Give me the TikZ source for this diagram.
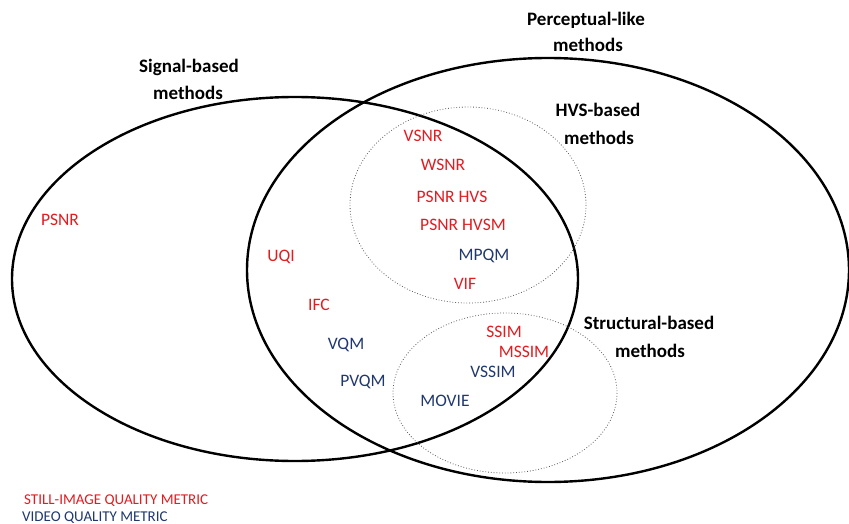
\documentclass[tikz,border=0pt]{standalone}
\usepackage{fontspec}
\setmainfont{Carlito}
\definecolor{mred}{RGB}{226,28,32}
\definecolor{mblue}{RGB}{32,56,110}
\begin{document}
\begin{tikzpicture}[x=1pt,y=-1pt,
  bigset/.style={draw=black,line width=2.4pt},
  subset/.style={draw=black!65,line width=0.8pt,dotted},
  grouplabel/.style={inner sep=0pt,anchor=base,font=\fontsize{19}{22}\selectfont\bfseries},
  stillm/.style={inner sep=0pt,anchor=base,text=mred,font=\fontsize{17.5}{20}\selectfont},
  videom/.style={inner sep=0pt,anchor=base,text=mblue,font=\fontsize{17.5}{20}\selectfont},
  legendtxt/.style={inner sep=0pt,anchor=base west,font=\fontsize{15}{17}\selectfont}]
\useasboundingbox (0,0) rectangle (849,524);
% sets
\coordinate (sigc) at (295,279);
\coordinate (perc) at (548,270);
\coordinate (hvsc) at (468,205);
\coordinate (strc) at (505,393);
\draw[bigset] (sigc) ellipse [x radius=283, y radius=182];
\draw[bigset] (perc) ellipse [x radius=301, y radius=212];
\draw[subset] (hvsc) ellipse [x radius=118, y radius=98];
\draw[subset] (strc) ellipse [x radius=112, y radius=80];
% group labels
\node[grouplabel] (perA) at (586,26) {Perceptual-like};
\node[grouplabel] (perB) at (588,52) {methods};
\node[grouplabel] (sigA) at (189,73) {Signal-based};
\node[grouplabel] (sigB) at (188,100) {methods};
\node[grouplabel] (hvsA) at (598,117) {HVS-based};
\node[grouplabel] (hvsB) at (599,145) {methods};
\node[grouplabel] (strA) at (649,329) {Structural-based};
\node[grouplabel] (strB) at (650,357) {methods};
% metrics
\node[stillm] (psnr) at (60,225) {PSNR};
\node[stillm] (vsnr) at (423,142) {VSNR};
\node[stillm] (wsnr) at (443,171) {WSNR};
\node[stillm] (psnrhvs) at (452,203) {PSNR HVS};
\node[stillm] (psnrhvsm) at (463,230) {PSNR HVSM};
\node[videom] (mpqm) at (484,260) {MPQM};
\node[stillm] (vif) at (465,289) {VIF};
\node[stillm] (uqi) at (281,261) {UQI};
\node[stillm] (ifc) at (319,310) {IFC};
\node[videom] (vqm) at (346,349) {VQM};
\node[videom] (pvqm) at (363,386) {PVQM};
\node[stillm] (ssim) at (504,337) {SSIM};
\node[stillm] (mssim) at (524,357) {MSSIM};
\node[videom] (vssim) at (493,377) {VSSIM};
\node[videom] (movie) at (445,406) {MOVIE};
% legend
\node[legendtxt,text=mred] (leg1) at (24,504) {STILL-IMAGE QUALITY METRIC};
\node[legendtxt,text=mblue] (leg2) at (22,521) {VIDEO QUALITY METRIC};
\end{tikzpicture}
\end{document}
